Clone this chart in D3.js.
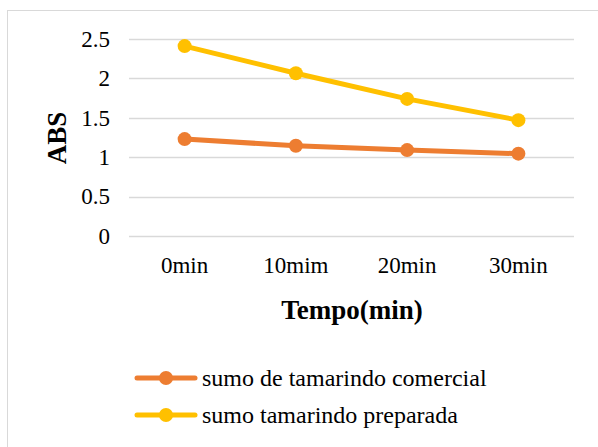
<!DOCTYPE html>
<html>
<head>
<meta charset="utf-8">
<script src="https://cdn.jsdelivr.net/npm/d3@7"></script>
<style>
  html, body { margin: 0; padding: 0; background: #fff; }
  svg { display: block; }
  text { font-family: "Liberation Serif", "Times New Roman", serif; fill: #000; }
</style>
</head>
<body>
<svg id="chart" width="598" height="447"></svg>
<script>
// Absorbance readings over time for two tamarind juices
const categories = ["0min", "10mim", "20min", "30min"];
const comercial = [1.23, 1.145, 1.09, 1.045];
const preparada = [2.41, 2.065, 1.74, 1.47];
const yTicks = [0, 0.5, 1, 1.5, 2, 2.5];
const seriesNames = ["sumo de tamarindo comercial", "sumo tamarindo preparada"];
const seriesColors = ["#ED7D31", "#FFC000"];

const series = [
  { name: seriesNames[0], color: seriesColors[0], values: comercial },
  { name: seriesNames[1], color: seriesColors[1], values: preparada }
];

const svg = d3.select("#chart");

// outer frame
svg.append("rect")
  .attr("x", 7.5).attr("y", 10.5)
  .attr("width", 620).attr("height", 460)
  .attr("fill", "#fff").attr("stroke", "#d9d9d9").attr("stroke-width", 1);

const plot = { left: 129, right: 574, top: 39, bottom: 236 };

const x = d3.scaleBand().domain(categories).range([plot.left, plot.right]);
const y = d3.scaleLinear().domain([0, 2.5]).range([plot.bottom, plot.top]);

// horizontal gridlines
svg.append("g")
  .selectAll("line")
  .data(yTicks)
  .join("line")
  .attr("x1", plot.left).attr("x2", plot.right)
  .attr("y1", d => Math.round(y(d)) + 0.5).attr("y2", d => Math.round(y(d)) + 0.5)
  .attr("stroke", "#d9d9d9").attr("stroke-width", 1.5);

// y axis labels
const yAxis = d3.axisLeft(y).tickValues(yTicks).tickSize(0).tickPadding(19)
  .tickFormat(d => String(d));
svg.append("g")
  .attr("transform", `translate(${plot.left},0)`)
  .call(yAxis)
  .call(g => g.select(".domain").remove())
  .call(g => g.attr("font-family", null).attr("font-size", null))
  .call(g => g.selectAll("text")
    .attr("font-size", 23).attr("fill", "#000"));

// x axis labels
const xAxis = d3.axisBottom(x).tickSize(0).tickPadding(21);
svg.append("g")
  .attr("transform", `translate(0,${plot.bottom})`)
  .call(xAxis)
  .call(g => g.select(".domain").remove())
  .call(g => g.attr("font-family", null).attr("font-size", null))
  .call(g => g.selectAll("text")
    .attr("font-size", 23).attr("fill", "#000"));

// axis titles
svg.append("text")
  .attr("x", 352).attr("y", 319)
  .attr("text-anchor", "middle")
  .attr("font-weight", "bold").attr("font-size", 27)
  .text("Tempo(min)");

svg.append("text")
  .attr("transform", "translate(66,138) rotate(-90)")
  .attr("text-anchor", "middle")
  .attr("font-weight", "bold").attr("font-size", 27)
  .text("ABS");

// series lines and markers
const line = d3.line()
  .x((d, i) => x(categories[i]) + x.bandwidth() / 2)
  .y(d => y(d));

const sg = svg.append("g").selectAll("g").data(series).join("g");
sg.append("path")
  .attr("d", d => line(d.values))
  .attr("fill", "none")
  .attr("stroke", d => d.color)
  .attr("stroke-width", 5)
  .attr("stroke-linejoin", "round");
sg.each(function (s) {
  d3.select(this).selectAll("circle")
    .data(s.values)
    .join("circle")
    .attr("cx", (d, i) => x(categories[i]) + x.bandwidth() / 2)
    .attr("cy", d => y(d))
    .attr("r", 7)
    .attr("fill", s.color);
});

// legend
const legend = svg.append("g");
const lg = legend.selectAll("g").data(series).join("g")
  .attr("transform", (d, i) => `translate(137,${378 + i * 37})`);
lg.append("line")
  .attr("x1", 0).attr("x2", 58).attr("y1", 0).attr("y2", 0)
  .attr("stroke", d => d.color).attr("stroke-width", 5)
  .attr("stroke-linecap", "round");
lg.append("circle")
  .attr("cx", 29).attr("cy", 0).attr("r", 7)
  .attr("fill", d => d.color);
lg.append("text")
  .attr("x", 65).attr("y", 0).attr("dy", "0.33em")
  .attr("font-size", 24)
  .text(d => d.name);
</script>
</body>
</html>
